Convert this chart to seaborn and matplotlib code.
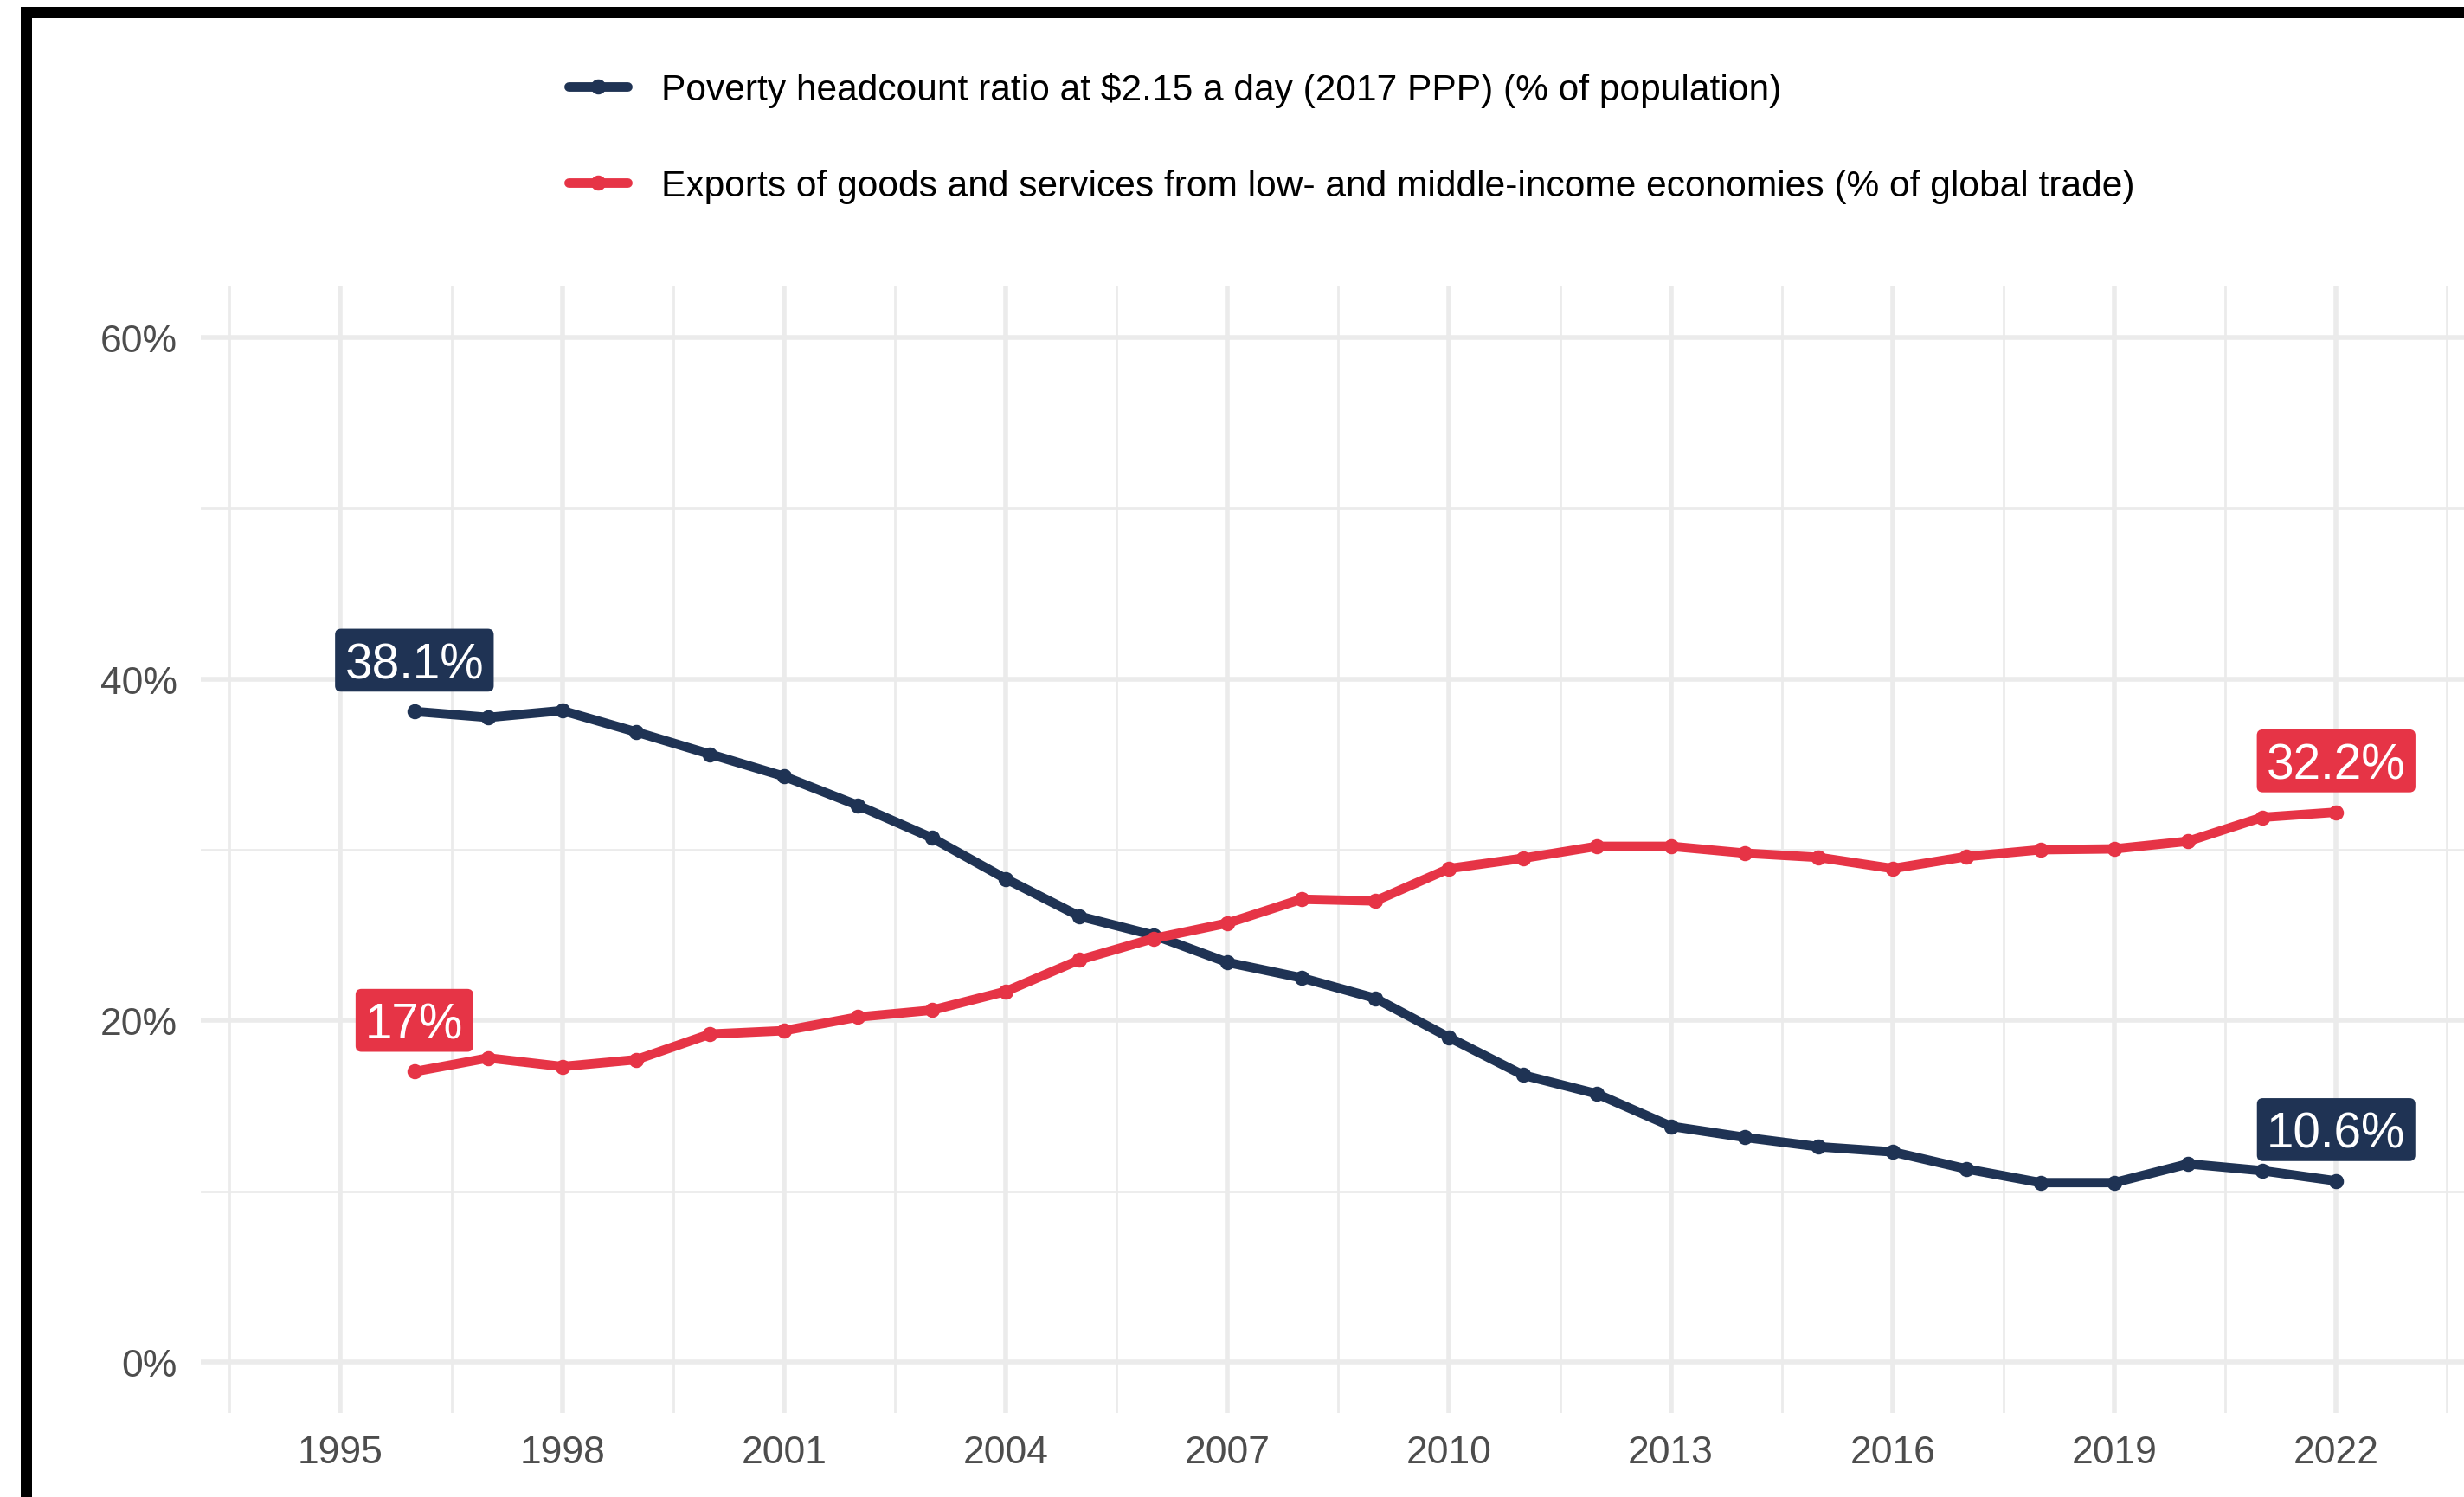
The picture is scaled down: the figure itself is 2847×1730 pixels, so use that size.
import numpy as np
import pandas as pd
import matplotlib
matplotlib.use("Agg")
import matplotlib.pyplot as plt
import seaborn as sns
from matplotlib.lines import Line2D
from matplotlib.patches import Rectangle, BoxStyle
from matplotlib.ticker import MultipleLocator, FuncFormatter

# data
years = list(range(1996, 2023))
poverty = [38.1, 37.75, 38.15, 36.9, 35.6, 34.3, 32.6, 30.7, 28.3, 26.1,
           25.0, 23.4, 22.5, 21.3, 19.0, 16.8, 15.7, 13.8, 13.15, 12.6,
           12.3, 11.3, 10.5, 10.5, 11.6, 11.2, 10.6]
exports = [17.0, 17.8, 17.3, 17.7, 19.2, 19.4, 20.2, 20.6, 21.7, 23.55,
           24.8, 25.7, 27.1, 27.0, 28.9, 29.5, 30.2, 30.2, 29.8, 29.55,
           28.9, 29.6, 30.0, 30.05, 30.5, 31.9, 32.2]
series_names = ["Poverty headcount ratio at $2.15 a day (2017 PPP) (% of population)",
                "Exports of goods and services from low- and middle-income economies (% of global trade)"]
series_colors = ["#1f3354", "#e63446"]

df = pd.concat([
    pd.DataFrame({"year": years, "value": poverty, "series": series_names[0]}),
    pd.DataFrame({"year": years, "value": exports, "series": series_names[1]}),
])

sns.set_theme(style="white")
plt.rcParams["font.family"] = ["Liberation Sans", "DejaVu Sans"]

W, H, DPI = 2847, 1731, 200
fig = plt.figure(figsize=(W / DPI, H / DPI), dpi=DPI)
fig.patch.set_facecolor("white")

ax_left, ax_bottom, ax_top = 232 / W, (H - 1634) / H, (H - 332) / H
ax = fig.add_axes([ax_left, ax_bottom, 1 - ax_left, ax_top - ax_bottom])

sns.lineplot(data=df, x="year", y="value", hue="series",
             palette=dict(zip(series_names, series_colors)),
             hue_order=series_names, marker="o", markersize=6.3,
             markeredgewidth=0, linewidth=3.9, legend=False, ax=ax, zorder=3)

ax.set_xlim(1993.11, 2023.73)
ax.set_ylim(-3, 63)
ax.xaxis.set_major_locator(MultipleLocator(3))
ax.xaxis.set_minor_locator(MultipleLocator(3, offset=1.5))
ax.yaxis.set_major_locator(MultipleLocator(20))
ax.yaxis.set_minor_locator(MultipleLocator(20, offset=10))
ax.yaxis.set_major_formatter(FuncFormatter(lambda v, p: f"{v:.0f}%"))
ax.grid(which="major", color="#ebebeb", linewidth=2.0)
ax.grid(which="minor", color="#ebebeb", linewidth=1.0)
ax.set_axisbelow(True)
for s in ax.spines.values():
    s.set_visible(False)
ax.tick_params(which="both", length=0, labelsize=16, labelcolor="#4d4d4d")
ax.tick_params(axis="y", pad=9.7)
ax.tick_params(axis="x", pad=9)
ax.set_xlabel("")
ax.set_ylabel("")


def label_box(x0, y0, width, height, mutation_size):
    px = 0.2 * mutation_size
    pt = 0.26 * mutation_size
    pb = 0.07 * mutation_size
    return BoxStyle.Round(pad=0, rounding_size=0.12)(
        x0 - px, y0 - pb, width + 2 * px, height + pt + pb, mutation_size)


# end labels
for vals, col in zip([poverty, exports], series_colors):
    for idx in (0, -1):
        ax.annotate(f"{vals[idx]:g}%", xy=(years[idx], vals[idx] + 3),
                    xytext=(0, -7.3), textcoords="offset points",
                    ha="center", va="baseline", fontsize=20.4, color="white",
                    bbox=dict(boxstyle=label_box, fc=col, ec="none"), zorder=5)

handles = [Line2D([], [], color=c, linewidth=3.9, marker="o", markersize=6.3,
                  markeredgewidth=0) for c in series_colors]
fig.legend(handles, series_names, loc="upper left",
           bbox_to_anchor=(657 / W, 1 - 84 / H), frameon=False,
           fontsize=15.3, handlelength=1.6, handletextpad=0.92,
           labelspacing=1.67, borderpad=0, borderaxespad=0,
           labelcolor="black")

# black frame on top and left
fig.add_artist(Rectangle((24 / W, (H - 22) / H), 1, 13 / H,
                         transform=fig.transFigure, color="black", lw=0))
fig.add_artist(Rectangle((24 / W, 0), 13 / W, (H - 9) / H,
                         transform=fig.transFigure, color="black", lw=0))

fig.savefig("out.png", dpi=DPI)
